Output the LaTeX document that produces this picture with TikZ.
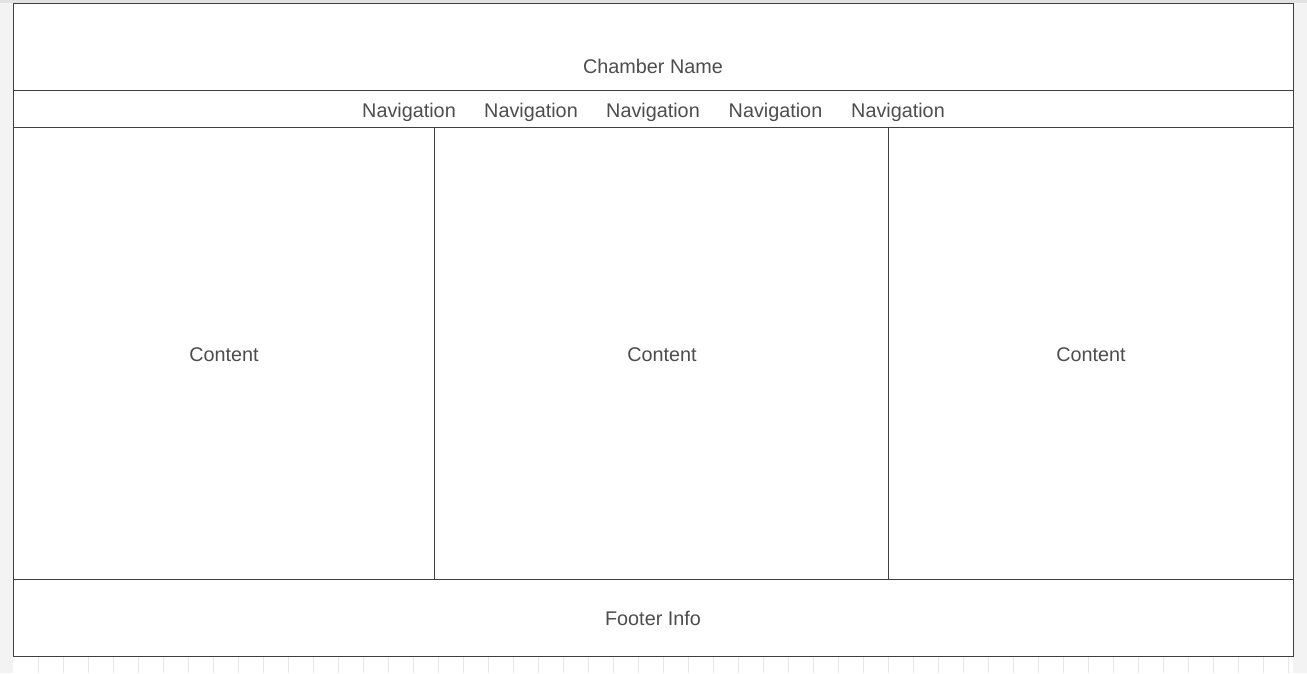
\documentclass[tikz,border=0pt]{standalone}
\usepackage{fontspec}
\setmainfont{Liberation Sans}
\definecolor{bggray}{HTML}{F3F3F3}
\definecolor{topgray}{HTML}{E2E2E2}
\definecolor{gridc}{HTML}{E6E6E6}
\definecolor{framec}{HTML}{3F3F3F}
\definecolor{txtc}{HTML}{4D4D4D}
\tikzset{
  frameline/.style={draw=framec, line width=1pt},
  gridline/.style={draw=gridc, line width=1pt},
  lbl/.style={text=txtc, font=\fontsize{19.8}{24}\selectfont, anchor=base, inner sep=0pt},
}
\begin{document}
\begin{tikzpicture}[x=1pt,y=-1pt]
\useasboundingbox (0,0) rectangle (1307,673);
\fill[bggray] (0,0) rectangle (1307,673);
\fill[topgray] (0,0) rectangle (1307,3);
\fill[white] (13,3) rectangle (1293,673);
% grid below frame
\foreach \gx in {38,63,...,1288} {
  \draw[gridline] (\gx,656) -- (\gx,673);
}
% frame
\fill[white] (13,3) rectangle (1293,656);
\coordinate (tl) at (13,3);
\coordinate (br) at (1293,656);
\draw[frameline] (tl) rectangle (br);
\coordinate (h1l) at (13,90);   \coordinate (h1r) at (1293,90);
\coordinate (h2l) at (13,127);  \coordinate (h2r) at (1293,127);
\coordinate (h3l) at (13,579);  \coordinate (h3r) at (1293,579);
\coordinate (v1t) at (434,127); \coordinate (v1b) at (434,579);
\coordinate (v2t) at (888,127); \coordinate (v2b) at (888,579);
\draw[frameline] (h1l) -- (h1r);
\draw[frameline] (h2l) -- (h2r);
\draw[frameline] (h3l) -- (h3r);
\draw[frameline] (v1t) -- (v1b);
\draw[frameline] (v2t) -- (v2b);
% texts
\node[lbl] (title) at (653,73.3) {Chamber Name};
\node[lbl] (nav1) at (409,117) {Navigation};
\node[lbl] (nav2) at (531,117) {Navigation};
\node[lbl] (nav3) at (653,117) {Navigation};
\node[lbl] (nav4) at (775.5,117) {Navigation};
\node[lbl] (nav5) at (898,117) {Navigation};
\node[lbl] (c1) at (224,361.5) {Content};
\node[lbl] (c2) at (662,361.5) {Content};
\node[lbl] (c3) at (1091,361.5) {Content};
\node[lbl] (foot) at (653,625) {Footer Info};
\end{tikzpicture}
\end{document}
